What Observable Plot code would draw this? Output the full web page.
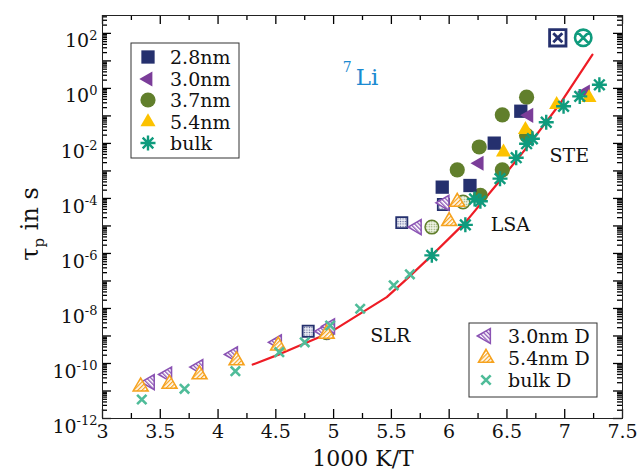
<!DOCTYPE html>
<html><head><meta charset="utf-8">
<script src="https://cdn.jsdelivr.net/npm/d3@7"></script>
<script src="https://cdn.jsdelivr.net/npm/@observablehq/plot@0.6"></script>
<style>
html,body{margin:0;padding:0;background:#fff;}
#chart svg{display:block}
</style></head><body>
<svg width="0" height="0" style="position:absolute">
<defs>
<pattern id="hatchPurple" patternUnits="userSpaceOnUse" width="3" height="3" patternTransform="rotate(45)">
 <rect width="3" height="3" fill="#fff"/><rect x="0" y="0" width="1.3" height="3" fill="#8a52b3"/>
</pattern>
<pattern id="hatchOrange" patternUnits="userSpaceOnUse" width="3" height="3" patternTransform="rotate(45)">
 <rect width="3" height="3" fill="#fff"/><rect x="0" y="0" width="1.3" height="3" fill="#f6a21e"/>
</pattern>
<pattern id="dotNavy" patternUnits="userSpaceOnUse" width="2.5" height="2.5">
 <rect width="2.5" height="2.5" fill="#eef0f6"/><circle cx="1.25" cy="1.25" r="0.7" fill="#5a6396"/>
</pattern>
<pattern id="dotGreen" patternUnits="userSpaceOnUse" width="2.5" height="2.5">
 <rect width="2.5" height="2.5" fill="#f1f5e8"/><circle cx="1.25" cy="1.25" r="0.7" fill="#7f9a55"/>
</pattern>
</defs></svg>
<div id="chart"></div>
<script>
// ---------- data: x = 1000 K/T, lg = log10(tau_p / s) ----------
const x28 = [5.94, 6.18, 6.39, 6.62];
const lg28 = [-3.59, -3.53, -1.99, -0.83];
const x30 = [6.26, 6.69, 7.18];
const lg30 = [-2.72, -0.98, -0.13];
const x37 = [6.07, 6.27, 6.26, 6.46, 6.46, 6.67, 6.67];
const lg37 = [-2.96, -3.89, -2.13, -2.96, -0.96, -1.71, -0.32];
const x54 = [6.47, 6.66, 6.93, 7.21];
const lg54 = [-2.32, -1.50, -0.59, -0.34];
const xBulk = [5.85, 6.14, 6.22, 6.27, 6.44, 6.58, 6.67, 6.72, 6.84, 6.99, 7.13, 7.30];
const lgBulk = [-6.07, -4.96, -4.02, -4.10, -3.28, -2.52, -2.01, -1.83, -1.23, -0.65, -0.29, 0.13];

const x28D = [4.78, 5.59, 5.95];
const lg28D = [-8.83, -4.88, -4.22];
const x30D = [3.41, 3.56, 3.83, 4.13, 4.51, 4.91, 4.97, 5.72, 5.96];
const lg30D = [-10.68, -10.40, -10.13, -9.67, -9.23, -8.83, -8.65, -5.04, -4.16];
const x37D = [4.94, 5.85, 6.12];
const lg37D = [-8.88, -5.04, -4.13];
const x54D = [3.33, 3.58, 3.84, 4.16, 4.52, 4.94, 6.00, 6.07];
const lg54D = [-10.84, -10.74, -10.40, -9.89, -9.35, -8.92, -4.83, -4.13];
const xBulkD = [3.34, 3.71, 4.15, 4.53, 4.75, 4.97, 5.23, 5.52, 5.66];
const lgBulkD = [-11.31, -10.92, -10.28, -9.59, -9.23, -8.62, -8.01, -7.16, -6.76];

const x28Box = [6.94];
const lg28Box = [1.84];
const xBulkCirc = [7.16];
const lgBulkCirc = [1.84];

const xFit = [4.30, 4.54, 4.97, 5.46, 5.62, 5.85, 6.14, 6.44, 6.70, 6.96, 7.24];
const lgFit = [-10.04, -9.65, -8.87, -7.59, -6.98, -6.07, -4.87, -3.35, -2.00, -0.55, 1.23];

const regionLabels = ["STE", "LSA", "SLR"];
const regionX = [7.04, 6.53, 5.49];
const regionLg = [-2.44, -4.95, -8.99];

const xMajor = [3, 3.5, 4, 4.5, 5, 5.5, 6, 6.5, 7, 7.5];
const xMinor = [3.25, 3.75, 4.25, 4.75, 5.25, 5.75, 6.25, 6.75, 7.25];
const yLabelExp = [-12, -10, -8, -6, -4, -2, 0, 2];
const yDecadeExp = d3.range(-12, 3);
const topLg = 2.65;

// ---------- styles ----------
const NAVY = "#25306e", PURPLE = "#7b3d99", GREEN = "#617f2c", GOLD = "#fcc200",
      TEAL = "#0f9b7d", TEAL_L = "#4fbc99", ORANGE = "#f6a21e", PURPLE_L = "#8a52b3", RED = "#ee1c25";
const FONT = "DejaVu Serif";
const W = 641, H = 470, ML = 102, MR = 19, MT = 15, MB = 52;
const FW = W - ML - MR, FH = H - MT - MB;
const X0 = 3, X1 = 7.5, LG0 = -12;

const asterisk8 = {draw(ctx, size) {
  const r = Math.sqrt(size / Math.PI);
  for (let i = 0; i < 4; i++) {
    const a = i * Math.PI / 4, dx = r * Math.cos(a), dy = r * Math.sin(a);
    ctx.moveTo(-dx, -dy); ctx.lineTo(dx, dy);
  }
}};
const times = {draw(ctx, size) {
  const r = Math.sqrt(size / Math.PI) * 0.72;
  ctx.moveTo(-r, -r); ctx.lineTo(r, r); ctx.moveTo(-r, r); ctx.lineTo(r, -r);
}};
const boxX = {draw(ctx, size) {
  const h = Math.sqrt(size / Math.PI);
  ctx.moveTo(-h, -h); ctx.lineTo(h, -h); ctx.lineTo(h, h); ctx.lineTo(-h, h); ctx.closePath();
  const k = h * 0.55;
  ctx.moveTo(-k, -k); ctx.lineTo(k, k); ctx.moveTo(-k, k); ctx.lineTo(k, -k);
}};
const circX = {draw(ctx, size) {
  const r = Math.sqrt(size / Math.PI);
  ctx.moveTo(r, 0); ctx.arc(0, 0, r, 0, 2 * Math.PI);
  const k = r * 0.707;
  ctx.moveTo(-k, -k); ctx.lineTo(k, k); ctx.moveTo(-k, k); ctx.lineTo(k, -k);
}};

const ST = {
  s28:  {symbol: "square", r: 7.5, fill: NAVY, stroke: "none", strokeWidth: 0},
  s30:  {symbol: "triangle", r: 5.6, rotate: -90, fill: PURPLE, stroke: "none", strokeWidth: 0},
  s37:  {symbol: "circle", r: 7.6, fill: GREEN, stroke: "none", strokeWidth: 0},
  s54:  {symbol: "triangle", r: 5.6, fill: GOLD, stroke: "none", strokeWidth: 0},
  sBulk:{symbol: asterisk8, r: 7.5, fill: "none", stroke: TEAL, strokeWidth: 2.4},
  s28D: {symbol: "square", r: 6.3, fill: "url(#dotNavy)", stroke: NAVY, strokeWidth: 1.8},
  s30D: {symbol: "triangle", r: 5.6, rotate: -90, fill: "url(#hatchPurple)", stroke: PURPLE_L, strokeWidth: 1.5},
  s37D: {symbol: "circle", r: 6.8, fill: "url(#dotGreen)", stroke: GREEN, strokeWidth: 1.5},
  s54D: {symbol: "triangle", r: 5.6, fill: "url(#hatchOrange)", stroke: ORANGE, strokeWidth: 1.5},
  sBulkD:{symbol: times, r: 6.5, fill: "none", stroke: TEAL_L, strokeWidth: 2.6},
  sBox: {symbol: boxX, r: 8.2, fill: "#fff", stroke: NAVY, strokeWidth: 2.8},
  sCirc:{symbol: circX, r: 8.2, fill: "#fff", stroke: TEAL, strokeWidth: 2.6}
};

const pts = (xs, lgs) => xs.map((x, i) => ({x, t: 10 ** lgs[i]}));
const dots = (xs, lgs, st) => Plot.dot(pts(xs, lgs), {x: "x", y: "t", ...st});

const fit = pts(xFit, lgFit);
const regions = regionLabels.map((s, i) => ({s, x: regionX[i], t: 10 ** regionLg[i]}));
const liPos = [{x: 5.29, t: 10 ** 0.40}];

const yMajor = yDecadeExp.map(k => 10 ** k);
const yMinor = [];
for (const k of yDecadeExp) for (let m = 2; m <= 9; m++) { const v = m * 10 ** k; if (Math.log10(v) <= topLg) yMinor.push(v); }
const yLabels = yLabelExp.map(k => 10 ** k);

// tick lengths expressed in data units (pixel length / pixels per unit)
const dxPx = px => px * (X1 - X0) / FW;
const dyLg = px => px * (topLg - LG0) / FH;
const tk = {stroke: "#000", strokeWidth: 1.3};
const xTicks = (vals, px) => [
  Plot.ruleX(vals, {x: d => d, y1: 10 ** LG0, y2: 10 ** (LG0 + dyLg(px)), ...tk}),
  Plot.ruleX(vals, {x: d => d, y1: 10 ** (topLg - dyLg(px)), y2: 10 ** topLg, ...tk})
];
const yTicks = (vals, px) => [
  Plot.ruleY(vals, {y: d => d, x1: X0, x2: X0 + dxPx(px), ...tk}),
  Plot.ruleY(vals, {y: d => d, x1: X1 - dxPx(px), x2: X1, ...tk})
];

const chart = Plot.plot({
  width: W, height: H,
  marginLeft: ML, marginRight: MR, marginTop: MT, marginBottom: MB,
  style: {fontFamily: FONT, fontSize: "19px", color: "#111", background: "#fff"},
  x: {domain: [X0, X1], label: null},
  y: {type: "log", domain: [10 ** LG0, 10 ** topLg], label: null},
  marks: [
    Plot.axisX({anchor: "bottom", ticks: xMajor, tickSize: 0, tickPadding: 6, tickFormat: d => String(d), label: null}),
    Plot.axisY({anchor: "left", ticks: yLabels, tickSize: 0, tickPadding: 5, dy: 8,
                tickFormat: d => "10^" + Math.round(Math.log10(d)), label: null}),
    Plot.line(fit, {x: "x", y: "t", stroke: RED, strokeWidth: 2.2}),
    dots(x28D, lg28D, ST.s28D),
    dots(x37D, lg37D, ST.s37D),
    dots(x30D, lg30D, ST.s30D),
    dots(x54D, lg54D, ST.s54D),
    dots(xBulkD, lgBulkD, ST.sBulkD),
    dots(x37, lg37, ST.s37),
    dots(x28, lg28, ST.s28),
    dots(x30, lg30, ST.s30),
    dots(x54, lg54, ST.s54),
    dots(xBulk, lgBulk, ST.sBulk),
    dots(x28Box, lg28Box, ST.sBox),
    dots(xBulkCirc, lgBulkCirc, ST.sCirc),
    Plot.text(regions, {x: "x", y: "t", text: "s", fontSize: 19, fontFamily: FONT, fill: "#111"}),
    Plot.text(liPos, {x: "x", y: "t", text: () => "Li", fontSize: 23, fontFamily: FONT, fill: "#1b8ad1"}),
    Plot.text(liPos, {x: "x", y: "t", text: () => "7", dx: -20, dy: -10, fontSize: 14, fontFamily: FONT, fill: "#1b8ad1"}),
    ...xTicks(xMajor, 9), ...xTicks(xMinor, 5),
    ...yTicks(yMajor, 9), ...yTicks(yMinor, 5),
    Plot.frame({stroke: "#222", strokeWidth: 1})
  ]
});
document.getElementById("chart").appendChild(chart);

const svg = d3.select(chart);

// superscript exponents on y tick labels
svg.selectAll("text").each(function() {
  const s = this.textContent;
  if (/^10\^-?\d+$/.test(s)) {
    const e = s.slice(3);
    const t = d3.select(this);
    t.text("");
    t.append("tspan").text("10");
    t.append("tspan").attr("dy", "-0.55em").attr("font-size", "13px").text(e);
  }
});

// axis titles
svg.append("text").attr("x", 363).attr("y", 466).attr("text-anchor", "middle")
  .attr("font-family", FONT).attr("font-size", 22).attr("fill", "#111").text("1000 K/T");
const yt = svg.append("text").attr("transform", "translate(38,224) rotate(-90)")
  .attr("text-anchor", "middle").attr("font-family", FONT).attr("font-size", 24).attr("fill", "#111");
yt.append("tspan").text("τ");
yt.append("tspan").attr("dy", 6).attr("font-size", 15).text("p");
yt.append("tspan").attr("dy", -6).text(" in s");

// legends
const SYM = {square: d3.symbolSquare, circle: d3.symbolCircle, triangle: d3.symbolTriangle};
function symPath(st) {
  const type = typeof st.symbol === "string" ? SYM[st.symbol] : st.symbol;
  return d3.symbol(type, st.r * st.r * Math.PI)();
}
function legend(box, sxp, tx, rows) {
  const g = svg.append("g");
  g.append("rect").attr("x", box[0]).attr("y", box[1]).attr("width", box[2]).attr("height", box[3])
    .attr("fill", "#fff").attr("stroke", "#333").attr("stroke-width", 1);
  for (const r of rows) {
    g.append("path").attr("d", symPath(r.st))
      .attr("transform", `translate(${sxp},${r.y})` + (r.st.rotate ? ` rotate(${r.st.rotate})` : ""))
      .attr("fill", r.st.fill).attr("stroke", r.st.stroke).attr("stroke-width", r.st.strokeWidth);
    g.append("text").attr("x", tx).attr("y", r.y).attr("dy", "0.36em").attr("text-anchor", "start")
      .attr("font-family", FONT).attr("font-size", 19).attr("fill", "#111").text(r.label);
  }
}
legend([131, 43, 108, 115], 148, 170, [
  {label: "2.8nm", st: ST.s28, y: 57},
  {label: "3.0nm", st: ST.s30, y: 79},
  {label: "3.7nm", st: ST.s37, y: 100},
  {label: "5.4nm", st: ST.s54, y: 122},
  {label: "bulk", st: ST.sBulk, y: 143}
]);
legend([469, 323, 128, 74], 486, 508, [
  {label: "3.0nm D", st: ST.s30D, y: 336},
  {label: "5.4nm D", st: ST.s54D, y: 358},
  {label: "bulk D", st: ST.sBulkD, y: 380}
]);
</script>
</body></html>
